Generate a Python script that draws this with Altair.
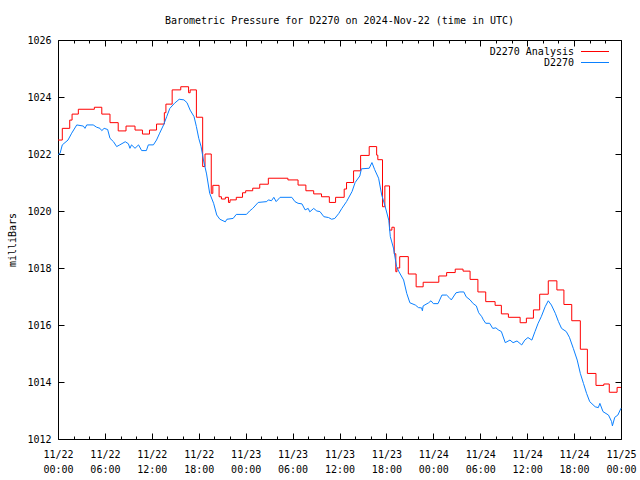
import altair as alt
import pandas as pd

# ---- data (hours after 2024-11-22 00:00 UTC, pressure in mbar) ----
analysis_hours = [0, 0.55, 1.5, 1.8, 2.6, 4.65, 5.6, 6.65, 7.7, 8.7, 9.85, 10.8, 11.7, 12.6,
                  13.6, 13.8, 14.6, 15.7, 16.7, 16.9, 17.7, 18.5, 18.8, 19.6, 19.8, 20.6, 20.9,
                  21.4, 21.8, 22.0, 22.8, 23.6, 24.0, 24.9, 25.8, 26.9, 29.4, 30.7, 31.7, 32.7,
                  33.7, 34.7, 35.5, 36.6, 36.9, 37.8, 38.7, 39.8, 40.75, 40.9, 41.5, 41.8, 42.4,
                  42.7, 43.0, 43.2, 43.35, 43.7, 44.8, 45.8, 46.7, 48.7, 49.7, 50.8, 51.8, 52.7,
                  53.7, 54.7, 55.9, 56.7, 57.6, 59.1, 59.9, 60.8, 61.6, 62.7, 63.8, 64.7, 65.7,
                  66.8, 67.7, 68.8, 69.8, 70.5, 71.5, 72]
analysis_values = [1022.49, 1022.90, 1023.19, 1023.40, 1023.57, 1023.64, 1023.40, 1023.10,
                   1022.81, 1022.98, 1022.84, 1022.70, 1022.84, 1023.05, 1023.45, 1023.75,
                   1024.25, 1024.36, 1024.15, 1024.25, 1023.29, 1021.56, 1022.00, 1020.62,
                   1020.90, 1020.50, 1020.42, 1020.48, 1020.30, 1020.39, 1020.48, 1020.64,
                   1020.71, 1020.80, 1020.94, 1021.15, 1021.09, 1020.91, 1020.71, 1020.60,
                   1020.50, 1020.30, 1020.48, 1020.77, 1021.00, 1021.41, 1021.95, 1022.26,
                   1021.96, 1021.80, 1020.15, 1020.88, 1019.33, 1019.43, 1018.50, 1017.87,
                   1018.00, 1018.40, 1017.79, 1017.34, 1017.50, 1017.72, 1017.84, 1017.96,
                   1017.89, 1017.60, 1017.16, 1016.82, 1016.69, 1016.39, 1016.27, 1016.08,
                   1016.24, 1016.53, 1017.08, 1017.55, 1017.23, 1016.72, 1016.15, 1015.15,
                   1014.30, 1013.88, 1013.93, 1013.64, 1013.81, 1013.81]

station_hours = [0.0, 0.26, 0.55, 1.28, 1.75, 2.4, 3.24, 3.45, 3.67, 4.5, 4.94, 5.37, 5.6, 5.9,
                 6.35, 6.65, 7.1, 7.5, 7.9, 8.6, 9.0, 9.2, 9.4, 9.85, 10.3, 10.7, 11.3, 11.55,
                 12.2, 12.6, 13.0, 13.5, 13.9, 14.3, 14.9, 15.5, 16.1, 16.5, 16.9, 17.4, 17.7,
                 18.0, 18.3, 18.6, 19.0, 19.4, 19.9, 20.3, 20.7, 21.4, 21.6, 22.4, 22.8, 24.1,
                 24.5, 24.9, 25.6, 26.7, 26.9, 27.3, 27.6, 27.9, 28.4, 29.9, 30.3, 30.7, 31.2,
                 31.6, 32.0, 32.2, 32.7, 33.1, 33.5, 34.0, 34.6, 35.0, 35.4, 35.9, 36.3, 36.9,
                 37.6, 38.0, 38.6, 38.8, 39.8, 40.15, 40.5, 41.0, 41.4, 41.8, 42.3, 42.5, 42.9,
                 43.3, 43.6, 44.2, 44.6, 45.0, 45.7, 46.1, 46.5, 46.6, 46.7, 47.4, 47.7, 48.0,
                 48.6, 49.1, 49.7, 50.0, 50.3, 50.9, 51.4, 51.9, 52.2, 52.7, 53.1, 53.5, 53.8,
                 54.2, 54.4, 54.7, 55.2, 55.6, 56.0, 56.3, 56.7, 57.2, 57.8, 58.2, 58.7, 59.3,
                 59.7, 60.1, 60.6, 61.0, 61.4, 61.8, 62.3, 62.7, 63.1, 63.6, 64.0, 64.4, 65.0,
                 65.4, 65.9, 66.4, 66.8, 67.2, 67.6, 68.0, 68.7, 69.1, 69.3, 69.7, 70.4, 70.8,
                 70.9, 71.2, 71.6, 72.0]
station_values = [1021.98, 1022.02, 1022.32, 1022.49, 1022.73, 1023.02, 1022.98, 1022.90,
                  1023.02, 1023.02, 1022.94, 1022.90, 1022.82, 1022.90, 1022.86, 1022.55,
                  1022.43, 1022.26, 1022.32, 1022.43, 1022.36, 1022.20, 1022.32, 1022.20,
                  1022.32, 1022.12, 1022.12, 1022.32, 1022.32, 1022.49, 1022.73, 1023.02,
                  1023.31, 1023.60, 1023.78, 1023.92, 1023.90, 1023.80, 1023.54, 1023.31,
                  1022.96, 1022.55, 1022.26, 1021.79, 1021.30, 1020.62, 1020.27, 1019.86,
                  1019.71, 1019.62, 1019.71, 1019.74, 1019.88, 1019.88, 1020.00, 1020.09,
                  1020.30, 1020.33, 1020.39, 1020.36, 1020.48, 1020.33, 1020.48, 1020.48,
                  1020.33, 1020.27, 1020.25, 1020.04, 1020.09, 1019.97, 1020.09, 1020.00,
                  1019.98, 1019.80, 1019.77, 1019.71, 1019.74, 1019.91, 1020.09, 1020.33,
                  1020.68, 1021.00, 1021.23, 1021.48, 1021.50, 1021.70, 1021.45, 1021.15,
                  1020.56, 1020.20, 1019.68, 1019.10, 1018.70, 1018.05, 1017.87, 1017.58,
                  1017.11, 1016.78, 1016.70, 1016.61, 1016.60, 1016.50, 1016.67, 1016.78,
                  1016.85, 1016.75, 1016.75, 1017.05, 1017.05, 1016.97, 1016.88, 1017.13,
                  1017.16, 1017.16, 1016.99, 1016.88, 1016.75, 1016.67, 1016.43, 1016.29,
                  1016.18, 1016.06, 1016.06, 1015.88, 1015.90, 1015.83, 1015.77, 1015.38,
                  1015.47, 1015.38, 1015.44, 1015.30, 1015.47, 1015.56, 1015.47, 1015.77,
                  1016.06, 1016.29, 1016.64, 1016.85, 1016.70, 1016.41, 1016.12, 1015.88,
                  1015.77, 1015.57, 1015.18, 1014.77, 1014.30, 1013.95, 1013.60, 1013.31,
                  1013.13, 1013.10, 1013.25, 1012.96, 1012.84, 1012.61, 1012.46, 1012.76,
                  1012.84, 1013.08]

series_names = ["D2270 Analysis", "D2270"]
series_colors = ["#ff0000", "#0a80ff"]
major_hours = list(range(0, 73, 6))
minor_hours = [h for h in range(2, 72, 2) if h % 6 != 0]
y_ticks = [1012, 1014, 1016, 1018, 1020, 1022, 1024, 1026]

START = pd.Timestamp("2024-11-22T00:00:00Z")
FONT = "DejaVu Sans Mono"


def frame(hours, values, name):
    return pd.DataFrame({
        "time": [(START + pd.Timedelta(hours=h)).strftime("%Y-%m-%dT%H:%M:%SZ") for h in hours],
        "value": values,
        "series": name,
    })


red_df = frame(analysis_hours, analysis_values, series_names[0])
blue_df = frame(station_hours, station_values, series_names[1])


def dt(h):
    t = START + pd.Timedelta(hours=h)
    return alt.DateTime(year=t.year, month=t.month, date=t.day, hours=t.hour, utc=True)


x_scale = alt.Scale(type="utc", domain=[dt(0), dt(72)], nice=False)
y_scale = alt.Scale(domain=[1012, 1026], nice=False, zero=False)
color_scale = alt.Scale(domain=series_names, range=series_colors)

legend = alt.Legend(
    orient="none", legendX=531.5, legendY=6, title=None, padding=0,
    symbolType="M-2.8,0H2.8", symbolSize=100, symbolStrokeWidth=1,
    symbolFillColor="transparent",
    labelAlign="right", labelOffset={"expr": "-26.5"}, labelFont=FONT, labelFontSize=10,
    labelColor="black", rowPadding=0,
)


def x_axis(orient, values, size, labels=False):
    kw = dict(orient=orient, values=[dt(h) for h in values], offset=-size, tickSize=size,
              tickColor="black", tickWidth=1, domain=False, grid=False, title=None,
              labels=labels)
    if labels:
        kw.update(labelExpr="[utcFormat(datum.value, '%m/%d'), utcFormat(datum.value, '%H:%M')]",
                  labelFont=FONT, labelFontSize=10, labelColor="black", labelPadding=10,
                  labelLineHeight=15, labelFlush=False, labelOverlap=False, labelBaseline="top")
    return alt.Axis(**kw)


y_left = alt.Axis(orient="left", values=y_ticks, format="d", offset=-6, tickSize=6,
                  tickColor="black", domain=False, grid=False, labelFont=FONT, labelFontSize=10,
                  labelColor="black", labelPadding=7, title="milliBars", titleFont=FONT,
                  titleFontSize=10, titleFontWeight="normal", titleColor="black",
                  titleX=-52, titleY=199.5, titleAngle=270, titleBaseline="middle",
                  titleAlign="center")
y_right = alt.Axis(orient="right", values=y_ticks, offset=-6, tickSize=6, tickColor="black",
                   domain=False, grid=False, labels=False, title=None)

red = alt.Chart(red_df).mark_line(interpolate="step-after", strokeWidth=1).encode(
    x=alt.X("time:T", scale=x_scale, axis=x_axis("bottom", major_hours, 6, labels=True)),
    y=alt.Y("value:Q", scale=y_scale, axis=y_left),
    color=alt.Color("series:N", scale=color_scale, legend=legend),
)
blue = alt.Chart(blue_df).mark_line(strokeWidth=1).encode(
    x=alt.X("time:T", scale=x_scale, axis=x_axis("top", major_hours, 6)),
    y=alt.Y("value:Q", scale=y_scale, axis=y_right),
    color=alt.Color("series:N", scale=color_scale, legend=legend),
)
minor_bottom = alt.Chart(blue_df).mark_line(opacity=0).encode(
    x=alt.X("time:T", scale=x_scale, axis=x_axis("bottom", minor_hours, 3)),
    y=alt.Y("value:Q", scale=y_scale, axis=None),
)
minor_top = alt.Chart(blue_df).mark_line(opacity=0).encode(
    x=alt.X("time:T", scale=x_scale, axis=x_axis("top", minor_hours, 3)),
    y=alt.Y("value:Q", scale=y_scale, axis=None),
)

chart = alt.layer(red, blue, minor_bottom, minor_top).resolve_axis(
    x="independent", y="independent"
).properties(
    width=563, height=399,
    autosize=alt.AutoSizeParams(type="none"),
    padding={"left": 58, "top": 40, "right": 19, "bottom": 41},
    background="white",
    title=alt.TitleParams(
        "Barometric Pressure for D2270 on 2024-Nov-22 (time in UTC)",
        font=FONT, fontSize=10, fontWeight="normal", color="black",
        anchor="middle", offset=9,
    ),
).configure_view(stroke="black", strokeWidth=1, fill="white")

chart.save("out.html", embed_options={"renderer": "svg", "actions": False})
